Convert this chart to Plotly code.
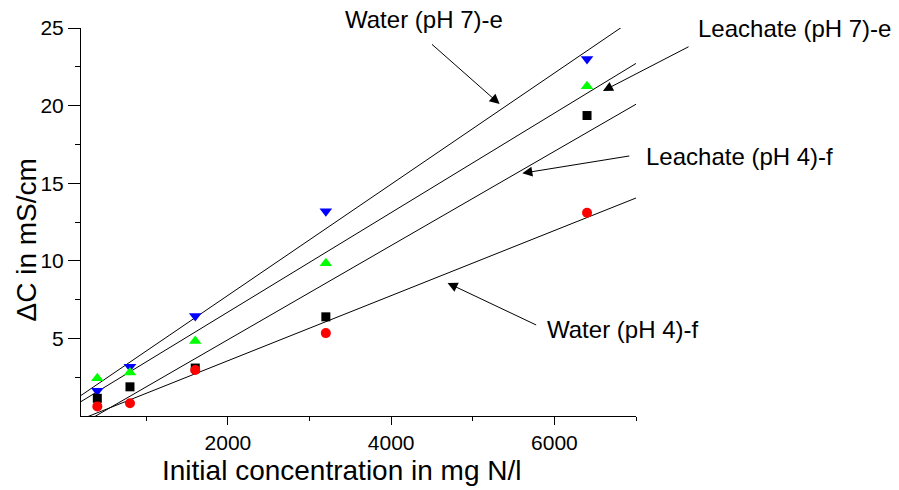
import numpy as np
import plotly.graph_objects as go

# Initial nitrogen concentration (mg N/l)
conc = [400, 800, 1600, 3200, 6400]

# Change in conductivity (mS/cm) for each medium
water_ph7 = [1.63, 3.17, 6.45, 13.2, 23.0]
leachate_ph7 = [2.44, 2.81, 4.84, 9.84, 21.24]
leachate_ph4 = [1.14, 1.88, 3.09, 6.39, 19.36]
water_ph4 = [0.62, 0.82, 2.96, 5.34, 13.1]

series_names = ["Water (pH 7)-e", "Leachate (pH 7)-e", "Leachate (pH 4)-f", "Water (pH 4)-f"]

x_range = [200, 7000]
y_range = [0, 25]

FONT = "Liberation Sans, Arial, sans-serif"

styles = [
    (water_ph7, "triangle-down", "#0000ff", 11),
    (leachate_ph7, "triangle-up", "#00ff00", 11),
    (leachate_ph4, "square", "#000000", 9),
    (water_ph4, "circle", "#ff0000", 10),
]

fig = go.Figure()

# Linear least-squares fit for each series, drawn across the full x range
xs = np.array(x_range, dtype=float)
for vals, *_ in styles:
    slope, intercept = np.polyfit(conc, vals, 1)
    fig.add_trace(go.Scatter(
        x=xs, y=slope * xs + intercept, mode="lines",
        line=dict(color="black", width=1), hoverinfo="skip", showlegend=False,
    ))

# Measured points
for (vals, sym, col, size), name in zip(styles, series_names):
    fig.add_trace(go.Scatter(
        x=conc, y=vals, mode="markers", name=name,
        marker=dict(symbol=sym, color=col, size=size, line=dict(width=0)),
        showlegend=False,
    ))

# Arrows pointing at each fit line: (head x, head y, tail x, tail y) in data units
arrows = [
    (5329, 20.10, 4482, 24.03),
    (6595, 20.94, 7662, 23.84),
    (5607, 15.64, 6936, 16.77),
    (4691, 8.57, 5795, 5.82),
]
for hx, hy, ax, ay in arrows:
    fig.add_annotation(
        x=hx, y=hy, ax=ax, ay=ay, xref="x", yref="y", axref="x", ayref="y",
        text="", showarrow=True, arrowhead=2, arrowsize=2, arrowwidth=1,
        arrowcolor="black", standoff=0, startstandoff=0,
    )

# Series labels, placed relative to the plot area
label_pos = [(0.472, 1.021), (1.109, 0.999), (1.014, 0.668), (0.836, 0.222)]
for text, (px, py) in zip(series_names, label_pos):
    fig.add_annotation(
        x=px, y=py, xref="paper", yref="paper", text=text, showarrow=False,
        xanchor="left", yanchor="middle",
        font=dict(family=FONT, size=24, color="black"),
    )

# Axis titles
fig.add_annotation(
    x=(342 - 81) / 555, y=-0.14, xref="paper", yref="paper",
    text="Initial concentration in mg N/l", showarrow=False,
    xanchor="center", yanchor="middle",
    font=dict(family=FONT, size=28, color="black"),
)
fig.add_annotation(
    x=-0.1, y=(416 - 240) / 388, xref="paper", yref="paper",
    text="ΔC in mS/cm", showarrow=False, textangle=-90,
    xanchor="center", yanchor="middle",
    font=dict(family=FONT, size=28, color="black"),
)

fig.update_layout(
    width=899, height=490,
    margin=dict(l=81, r=263, t=28, b=74),
    paper_bgcolor="white", plot_bgcolor="white",
    font=dict(family=FONT, color="black"),
    showlegend=False,
)

fig.update_xaxes(
    range=x_range, tick0=0, dtick=2000,
    showgrid=False, zeroline=False,
    showline=True, linecolor="black", linewidth=1,
    ticks="outside", ticklen=8, tickwidth=1, tickcolor="black",
    tickfont=dict(family=FONT, size=21),
    minor=dict(tick0=0, dtick=1000, ticks="outside", ticklen=4, tickcolor="black", showgrid=False),
)
fig.update_yaxes(
    range=y_range, tickvals=[5, 10, 15, 20, 25],
    showgrid=False, zeroline=False,
    showline=True, linecolor="black", linewidth=1,
    ticks="outside", ticklen=12, tickwidth=1, tickcolor="black",
    tickfont=dict(family=FONT, size=21),
    minor=dict(tickvals=[2.5, 7.5, 12.5, 17.5, 22.5], ticks="outside", ticklen=5, tickcolor="black", showgrid=False),
)

fig.write_html("out.html")
